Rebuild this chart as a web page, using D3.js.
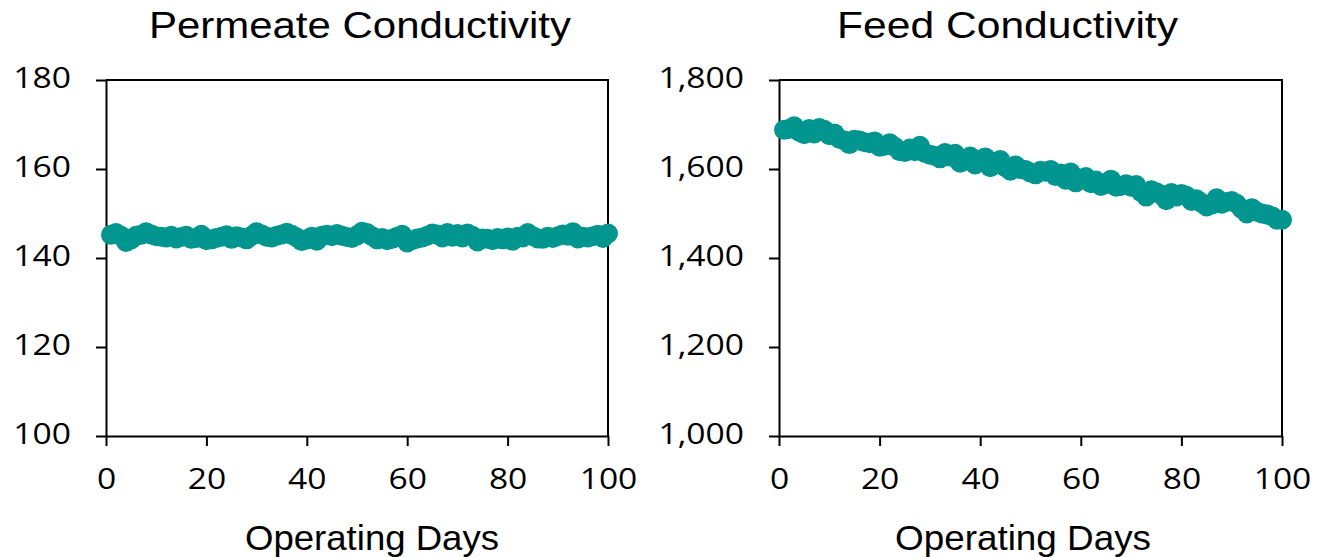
<!DOCTYPE html>
<html>
<head>
<meta charset="utf-8">
<script src="https://cdn.jsdelivr.net/npm/d3@7"></script>
<style>
  html, body { margin: 0; padding: 0; background: #fff; }
  svg { display: block; }
</style>
</head>
<body>
<svg id="chart" width="1317" height="557"></svg>
<script>
// ---- data ----
const days = d3.range(1, 101);
const permeate = [
  145.2, 145.6, 145.0, 143.6, 144.2, 145.0, 145.2, 145.8, 145.3, 144.9,
  144.8, 144.6, 145.0, 144.4, 144.7, 145.0, 144.3, 144.5, 145.2, 144.0,
  144.2, 144.5, 144.8, 145.1, 144.3, 144.9, 144.6, 144.2, 145.0, 145.8,
  145.3, 144.8, 144.6, 145.0, 145.3, 145.7, 145.2, 144.6, 143.8, 144.2,
  144.8, 143.9, 145.0, 145.2, 144.9, 145.4, 145.0, 144.7, 144.5, 145.1,
  145.9, 145.6, 144.9, 144.2, 144.5, 144.0, 144.3, 144.8, 145.2, 143.5,
  144.0, 144.4, 144.6, 145.0, 145.5, 145.3, 144.6, 145.6, 144.8, 145.4,
  144.6, 145.5, 145.0, 143.7, 144.4, 144.3, 144.0, 144.5, 144.2, 144.6,
  143.9, 144.8, 144.6, 145.6, 144.9, 144.4, 144.3, 144.8, 144.5, 144.9,
  145.3, 145.0, 145.8, 144.4, 144.8, 144.6, 144.9, 145.2, 144.5, 145.5
];
const feed = [
  1688, 1690, 1696, 1684, 1678, 1690, 1680, 1692, 1688, 1676,
  1680, 1668, 1664, 1656, 1666, 1664, 1660, 1658, 1662, 1650,
  1652, 1658, 1650, 1640, 1638, 1646, 1640, 1652, 1636, 1632,
  1630, 1624, 1636, 1628, 1634, 1614, 1618, 1628, 1610, 1620,
  1626, 1604, 1616, 1620, 1604, 1596, 1608, 1600, 1598, 1592,
  1588, 1596, 1594, 1598, 1584, 1590, 1576, 1592, 1570, 1578,
  1582, 1568, 1574, 1562, 1566, 1576, 1560, 1562, 1566, 1560,
  1564, 1548, 1538, 1552, 1548, 1542, 1530, 1546, 1538, 1544,
  1540, 1528, 1532, 1524, 1516, 1520, 1534, 1522, 1526, 1528,
  1522, 1510, 1500, 1512, 1504, 1500, 1498, 1494, 1486, 1486
];
const xTicks = [0, 20, 40, 60, 80, 100];
const permeateTicks = [100, 120, 140, 160, 180];
const feedTicks = [1000, 1200, 1400, 1600, 1800];
const titles = ["Permeate Conductivity", "Feed Conductivity"];
const xLabel = "Operating Days";

// ---- layout ----
const svg = d3.select("#chart");
const color = "#00958f";
const tickFont = "'Open Sans', 'Noto Sans', sans-serif";
const labelFont = "'Liberation Sans', Arial, sans-serif";
const stretch = 1.12;

const panels = [
  { x0: 106, x1: 608, yDomain: [100, 180], ticks: permeateTicks, values: permeate,
    fmt: d3.format("d"), titleX: 360, titleW: 422, labelX: 372, labelW: 254 },
  { x0: 779, x1: 1282, yDomain: [1000, 1800], ticks: feedTicks, values: feed,
    fmt: d3.format(","), titleX: 1007.5, titleW: 341, labelX: 1023, labelW: 256 }
];
const yTop = 80, yBot = 436;

function stretchText(sel, factor) {
  sel.each(function () {
    const w = this.getComputedTextLength();
    d3.select(this).attr("textLength", w * factor).attr("lengthAdjust", "spacingAndGlyphs");
  });
}

panels.forEach((p, i) => {
  const x = d3.scaleLinear().domain([0, 100]).range([p.x0, p.x1]);
  const y = d3.scaleLinear().domain(p.yDomain).range([yBot, yTop]);

  const g = svg.append("g");

  // frame (top & right)
  g.append("path")
    .attr("d", `M${p.x0},${yTop}H${p.x1}V${yBot}`)
    .attr("fill", "none").attr("stroke", "#000").attr("stroke-width", 2);

  // x axis
  const xa = g.append("g").attr("transform", `translate(0,${yBot})`)
    .call(d3.axisBottom(x).tickValues(xTicks).tickSize(10).tickPadding(0).tickSizeOuter(0));
  xa.select(".domain").attr("stroke-width", 2);
  xa.selectAll(".tick line").attr("stroke-width", 2);
  xa.selectAll(".tick text")
    .attr("y", 53).attr("dy", null)
    .attr("font-family", tickFont).attr("font-size", 30).attr("fill", "#000")
    .call(stretchText, stretch);

  // y axis
  const ya = g.append("g").attr("transform", `translate(${p.x0},0)`)
    .call(d3.axisLeft(y).tickValues(p.ticks).tickFormat(p.fmt).tickSize(10).tickPadding(0).tickSizeOuter(0));
  ya.select(".domain").attr("stroke-width", 2);
  ya.selectAll(".tick line").attr("stroke-width", 2);
  ya.selectAll(".tick text")
    .attr("x", -35).attr("dy", null).attr("y", 7)
    .attr("font-family", tickFont).attr("font-size", 30).attr("fill", "#000")
    .call(stretchText, stretch);

  // points
  g.append("g").selectAll("circle")
    .data(p.values.map((v, k) => [days[k], v]))
    .join("circle")
    .attr("cx", d => x(d[0]))
    .attr("cy", d => y(d[1]))
    .attr("r", 10)
    .attr("fill", color);

  // title
  g.append("text")
    .attr("x", p.titleX).attr("y", 38)
    .attr("text-anchor", "middle")
    .attr("font-family", labelFont).attr("font-size", 37)
    .attr("textLength", p.titleW).attr("lengthAdjust", "spacingAndGlyphs")
    .text(titles[i]);

  // x label
  g.append("text")
    .attr("x", p.labelX).attr("y", 550)
    .attr("text-anchor", "middle")
    .attr("font-family", labelFont).attr("font-size", 35)
    .attr("textLength", p.labelW).attr("lengthAdjust", "spacingAndGlyphs")
    .text(xLabel);
});
</script>
</body>
</html>
